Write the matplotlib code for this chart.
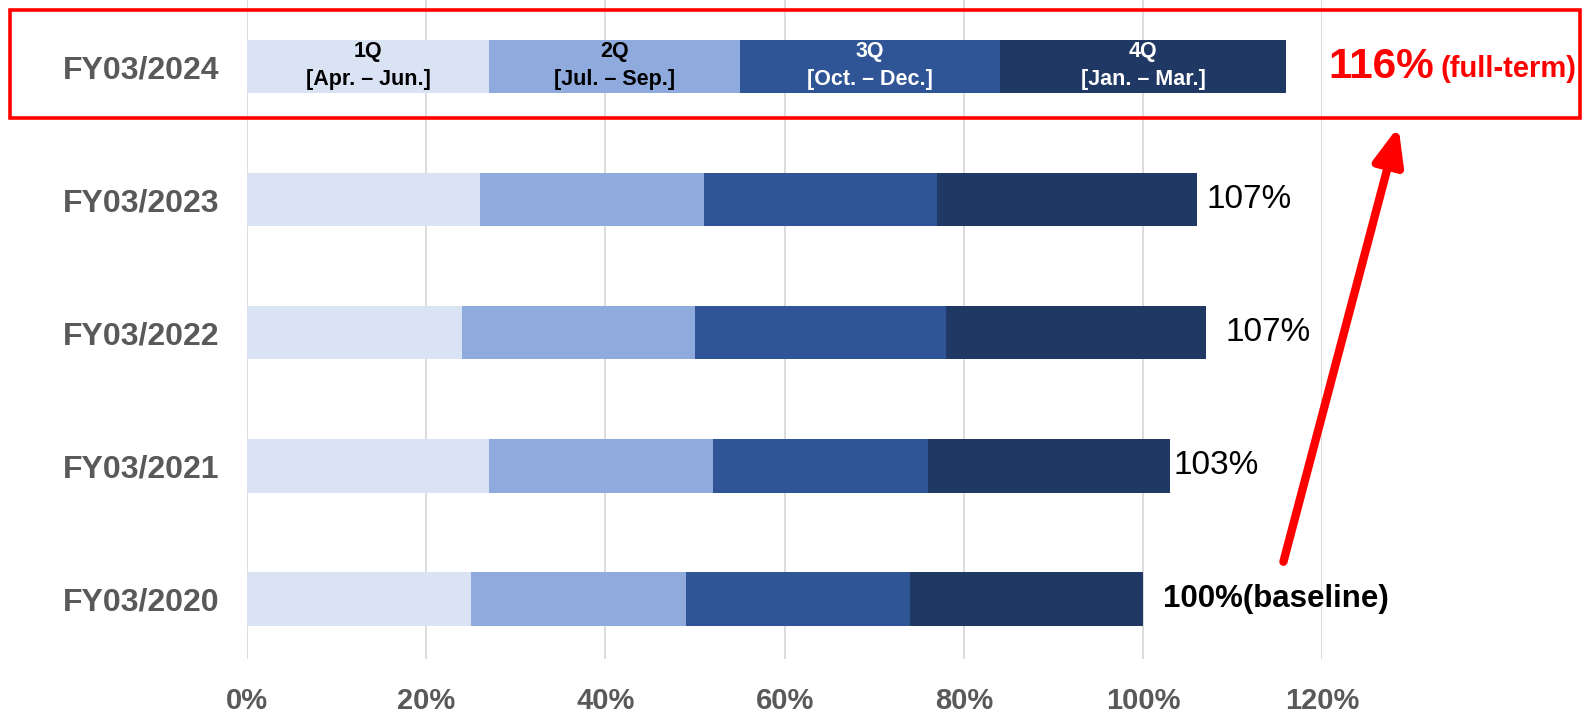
import matplotlib.pyplot as plt
from matplotlib.patches import Rectangle
import numpy as np

# ---------------------------------------
# Data
# ---------------------------------------
years = ["FY03/2020", "FY03/2021", "FY03/2022", "FY03/2023", "FY03/2024"]
q1 = [25, 27, 24, 26, 27]
q2 = [24, 25, 26, 25, 28]
q3 = [25, 24, 28, 26, 29]
q4 = [26, 27, 29, 29, 32]
quarter_names = ["1Q\n[Apr. – Jun.]", "2Q\n[Jul. – Sep.]",
                 "3Q\n[Oct. – Dec.]", "4Q\n[Jan. – Mar.]"]
total_labels = ["100%(baseline)", "103%", "107%", "107%", "116%"]
xticks = [0, 20, 40, 60, 80, 100, 120]

colors = ["#DAE3F3", "#8FAADC", "#2F5597", "#203864"]
text_colors = ["black", "black", "white", "white"]
label_dx = [20, 4, 20, 10]  # px offsets of the year-end labels

plt.rcParams["font.family"] = ["Liberation Sans", "DejaVu Sans"]

fig = plt.figure(figsize=(15.91, 7.18), dpi=100)
ax = fig.add_axes([0.1553, 0.0822, 0.6757, 0.9178])

y = np.arange(len(years))
quarters = np.array([q1, q2, q3, q4], dtype=float)
left = np.zeros(len(years))
for k in range(4):
    ax.barh(y, quarters[k], left=left, height=0.4, color=colors[k],
            edgecolor="none", zorder=3)
    # quarter labels on the latest year only
    ax.text(left[-1] + quarters[k][-1] / 2, y[-1] + 0.01, quarter_names[k],
            ha="center", va="center", fontsize=15.5, fontweight="bold",
            color=text_colors[k], linespacing=1.45, zorder=4)
    left += quarters[k]

# totals
for i in range(len(years) - 1):
    bold = "bold" if i == 0 else "normal"
    size = 22.5 if i == 0 else 24
    ax.annotate(total_labels[i], (left[i], y[i]), xytext=(label_dx[i] * 0.72, 0),
                textcoords="offset points", ha="left", va="center",
                fontsize=size, fontweight=bold, color="black")

ax.annotate(total_labels[-1], (left[-1], y[-1]), xytext=(30, 0),
            textcoords="offset points", ha="left", va="center",
            fontsize=30.5, fontweight="bold", color="red", annotation_clip=False)
ax.annotate("(full-term)", (left[-1], y[-1]), xytext=(111, -2),
            textcoords="offset points", ha="left", va="center",
            fontsize=21, fontweight="bold", color="red", annotation_clip=False)

ax.set_xlim(0, 120)
ax.set_ylim(-0.45, 4.5)
ax.set_yticks(y)
ax.set_yticklabels(years, fontsize=23, fontweight="bold", color="#595959")
ax.set_xticks(xticks)
ax.set_xticklabels([f"{v}%" for v in xticks], fontsize=21, fontweight="bold",
                   color="#595959")
ax.tick_params(axis="both", length=0)
ax.tick_params(axis="x", pad=20)
ax.tick_params(axis="y", pad=20)
ax.grid(axis="x", color="#D9D9D9", linewidth=1.3, zorder=0)
for s in ax.spines.values():
    s.set_visible(False)

# red highlight frame round the latest year
fig.patches.append(Rectangle((0.0063, 0.836), 0.9867, 0.150, transform=fig.transFigure,
                             fill=False, edgecolor="red", linewidth=2.6))

# red arrow from baseline up to the latest year
ax.annotate("", xy=(128.6, 3.57), xytext=(115.6, 0.26),
            arrowprops=dict(arrowstyle="-|>,head_length=1.1,head_width=0.45",
                            color="red", lw=6, mutation_scale=20),
            annotation_clip=False)

fig.savefig("out.png", dpi=100)
